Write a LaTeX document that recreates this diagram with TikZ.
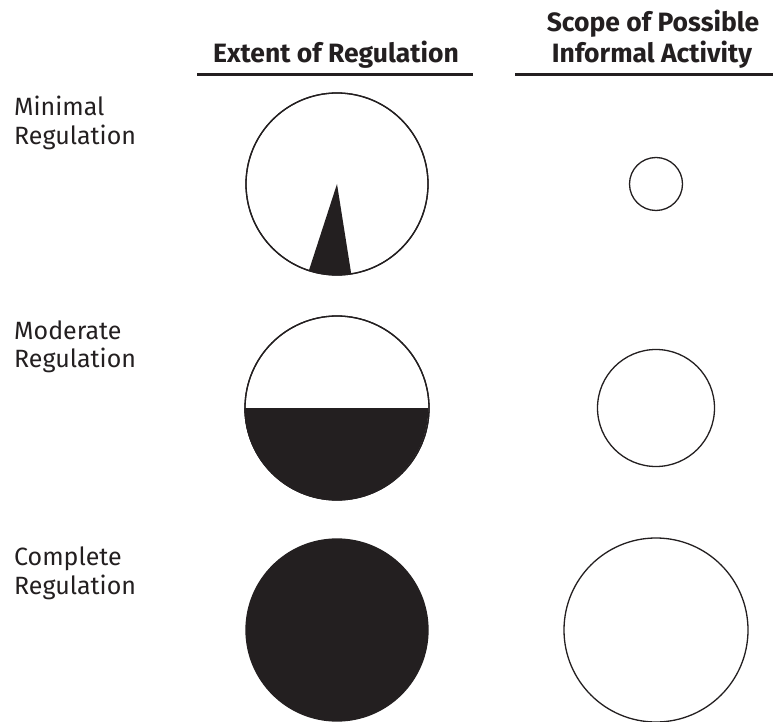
\documentclass[tikz,border=0pt]{standalone}
\usepackage{fontspec}
\setmainfont{Fira Sans}
\definecolor{ink}{RGB}{35,31,32}
\begin{document}
\begin{tikzpicture}[x=1pt,y=1pt,
  ring/.style={circle,draw=ink,line width=1.3pt,inner sep=0pt,fill=white},
  rowlabel/.style={anchor=base west,align=left,inner sep=0pt,text=ink,
    font=\fontsize{25}{29}\selectfont},
  head/.style={anchor=base,align=center,inner sep=0pt,text=ink,
    font=\bfseries\fontsize{26.5}{31}\selectfont},
  rule/.style={line width=3pt,draw=ink}]
\useasboundingbox (0,0) rectangle (773,721);
% headers
\node[head] (h1) at (336,658) {Extent of Regulation};
\node[head] (h2a) at (653,689) {Scope of Possible};
\node[head] (h2b) at (652,658) {Informal Activity};
\coordinate (r1a) at (197,646); \coordinate (r1b) at (473,646);
\coordinate (r2a) at (515,646); \coordinate (r2b) at (773,646);
\draw[rule] (r1a) -- (r1b);
\draw[rule] (r2a) -- (r2b);
% row labels (anchor = baseline of last line)
\node[rowlabel] (l1) at (14,576) {Minimal\\Regulation};
\node[rowlabel] (l2) at (14,353) {Moderate\\Regulation};
\node[rowlabel] (l3) at (14,127) {Complete\\Regulation};
% left column
\node[ring,minimum size=182pt] (a1) at (337,537) {};
\fill[ink] (a1.center) -- ++(252:91) arc[start angle=252,end angle=279,radius=91] -- cycle;
\draw[ink,line width=1.3pt] (a1.center) circle[radius=91];
\node[ring,minimum size=184pt] (a2) at (337,313) {};
\fill[ink] (a2.west) arc[start angle=180,end angle=360,radius=92] -- cycle;
\draw[ink,line width=1.3pt] (a2.center) circle[radius=92];
\node[ring,fill=ink,minimum size=182pt] (a3) at (337,91) {};
% right column
\node[ring,minimum size=53pt] (b1) at (656,537) {};
\node[ring,minimum size=117pt] (b2) at (656,313) {};
\node[ring,minimum size=184pt] (b3) at (656,91) {};
\end{tikzpicture}
\end{document}
